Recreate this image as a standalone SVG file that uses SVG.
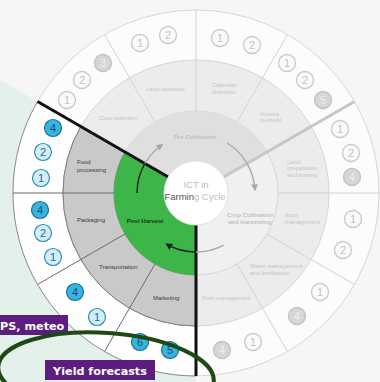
<svg xmlns="http://www.w3.org/2000/svg" width="380" height="382" viewBox="0 0 380 382">
<defs>
<style>
.lbl{font-family:"Liberation Sans",Arial,sans-serif;font-size:6px;fill:#c4c4c4}
.lblD{font-family:"Liberation Sans",Arial,sans-serif;font-size:6px;fill:#3a3a3a}
.ttl{font-family:"Liberation Sans",Arial,sans-serif;font-size:6px;font-weight:bold;fill:#c0c0c0}
.num{font-family:"Liberation Sans",Arial,sans-serif;font-size:11px;text-anchor:middle}
.g circle{fill:#fafafa;stroke:#c9c9c9;stroke-width:1.3}
.g text{fill:#c2c2c2}
.gf circle{fill:#d6d6d6;stroke:#c2c2c2;stroke-width:1.3}
.gf text{fill:#eeeeee}
.bd circle{fill:#36b5e0;stroke:#1b6f95;stroke-width:1.2}
.bd text{fill:#1a4c66}
.bl circle{fill:#d2eef8;stroke:#2a8cb5;stroke-width:1.2}
.bl text{fill:#2a6a88}
.thin{stroke:#d2d2d2;stroke-width:1;fill:none}
.dark{stroke:#6a6a6a;stroke-width:1;fill:none}
.arrG{stroke:#a8a8a8;stroke-width:1.4;fill:none}
.arrD{stroke:#1e1e1e;stroke-width:1.4;fill:none}
.tag rect{fill:#5c1d80}
.tag text{font-family:"DejaVu Sans",Verdana,sans-serif;font-weight:bold;font-size:11.2px;fill:#ffffff}
</style>
<marker id="ahG" viewBox="0 0 10 10" refX="8" refY="5" markerWidth="7" markerHeight="7" markerUnits="userSpaceOnUse" orient="auto"><path d="M0,0 L10,5 L0,10 z" fill="#a8a8a8"/></marker>
<marker id="ahD" viewBox="0 0 10 10" refX="8" refY="5" markerWidth="7" markerHeight="7" markerUnits="userSpaceOnUse" orient="auto"><path d="M0,0 L10,5 L0,10 z" fill="#1e1e1e"/></marker>
</defs>

<rect x="0" y="0" width="380" height="382" fill="#f6f6f6"/>
<polygon points="196,193 -150,-7 -150,400 196,400" fill="#e4f1eb"/>

<g id="wheel">
<circle cx="196" cy="193" r="183" fill="#fcfcfc" stroke="#d6d6d6"/>
<circle cx="196" cy="193" r="133" fill="#ececec" stroke="#d6d6d6"/>
<circle cx="196" cy="193" r="82" fill="#f0f0f0" stroke="#d6d6d6"/>
<path d="M267,152 A82,82 0 0 0 125,152 L168.3,177 A32,32 0 0 1 223.7,177 Z" fill="#dfdfdf"/>
<path d="M37.5,101.5 A183,183 0 0 0 196,376 L196,326 A133,133 0 0 1 80.8,126.5 Z" fill="#fefefe" stroke="#8c8c8c"/>
<path d="M80.8,126.5 A133,133 0 0 0 196,326 L196,275 A82,82 0 0 1 125,152 Z" fill="#c9c9c9" stroke="#808080"/>
<path d="M125,152 A82,82 0 0 0 196,275 L196,225 A32,32 0 0 1 168.3,177 Z" fill="#3db649"/>
</g>

<g id="connectors">
<line class="thin" x1="237" y1="122" x2="287.5" y2="34.5"/>
<line class="thin" x1="196" y1="111" x2="196" y2="10"/>
<line class="thin" x1="155" y1="122" x2="104.5" y2="34.5"/>
<line class="thin" x1="278" y1="193" x2="379" y2="193"/>
<line class="thin" x1="267" y1="234" x2="354.5" y2="284.5"/>
<line class="thin" x1="237" y1="264" x2="287.5" y2="351.5"/>
<line class="dark" x1="114" y1="193" x2="13" y2="193"/>
<line class="dark" x1="125" y1="234" x2="37.5" y2="284.5"/>
<line class="dark" x1="155" y1="264" x2="104.5" y2="351.5"/>
<line x1="223.7" y1="177" x2="354.5" y2="101.5" stroke="#c6c6c6" stroke-width="3"/>
<line x1="168.3" y1="177" x2="37.5" y2="101.5" stroke="#111111" stroke-width="3"/>
<line x1="196" y1="225" x2="196" y2="376" stroke="#111111" stroke-width="3"/>
<path class="arrD" d="M137,193 A59,59 0 0 1 144.9,163.5"/>
<path class="arrG" d="M144.9,163.5 A59,59 0 0 1 162.2,144.7" marker-end="url(#ahG)"/>
<path class="arrG" d="M227.3,143 A59,59 0 0 1 254.9,189.9" marker-end="url(#ahG)"/>
<path class="arrG" d="M223.7,245.1 A59,59 0 0 1 196,252"/>
<path class="arrD" d="M196,252 A59,59 0 0 1 166.5,244.1" marker-end="url(#ahD)"/>
</g>

<g id="center">
<circle cx="196" cy="193" r="32" fill="#ffffff" stroke="#e2e2e2"/>
<text x="196" y="188" text-anchor="middle" font-family="Liberation Sans, Arial, sans-serif" font-size="9.5" fill="#bdbdbd">ICT in</text>
<text x="195" y="200" text-anchor="middle" font-family="Liberation Sans, Arial, sans-serif" font-size="9.5" fill="#bdbdbd"><tspan fill="#555555">Farmin</tspan>g Cycle</text>
</g>

<g id="pre-cultivation"><text class="ttl" x="195" y="139" text-anchor="middle">Pre Cultivation</text></g>
<g id="crop-cultivation"><text class="ttl" x="227" y="217">Crop Cultivation</text><text class="ttl" x="228" y="224">and Harvesting</text></g>
<g id="post-harvest"><text x="145" y="223" text-anchor="middle" font-family="Liberation Sans, Arial, sans-serif" font-size="6" font-weight="bold" fill="#1d331d">Post Harvest</text></g>

<g id="crop-selection">
<text class="lbl" x="99" y="120">Crop selection</text>
<g class="g"><circle cx="67" cy="100" r="8.5"/><text class="num" x="67" y="104">1</text></g>
<g class="g"><circle cx="82" cy="80" r="8.5"/><text class="num" x="82" y="84">2</text></g>
<g class="gf"><circle cx="103" cy="63" r="8.5"/><text class="num" x="103" y="67">3</text></g>
</g>
<g id="land-selection">
<text class="lbl" x="146" y="91">Land selection</text>
<g class="g"><circle cx="140" cy="43" r="8.5"/><text class="num" x="140" y="47">1</text></g>
<g class="g"><circle cx="168" cy="35" r="8.5"/><text class="num" x="168" y="39">2</text></g>
</g>
<g id="calendar-definition">
<text class="lbl" x="224" y="87" text-anchor="middle">Calendar</text>
<text class="lbl" x="224" y="94" text-anchor="middle">definition</text>
<g class="g"><circle cx="220" cy="38" r="8.5"/><text class="num" x="220" y="42">1</text></g>
<g class="g"><circle cx="252" cy="45" r="8.5"/><text class="num" x="252" y="49">2</text></g>
</g>
<g id="access-to-credit">
<text class="lbl" x="260" y="116">Access</text>
<text class="lbl" x="260" y="122">to credit</text>
<g class="g"><circle cx="287" cy="63" r="8.5"/><text class="num" x="287" y="67">1</text></g>
<g class="g"><circle cx="305" cy="80" r="8.5"/><text class="num" x="305" y="84">2</text></g>
<g class="gf"><circle cx="323" cy="100" r="8.5"/><text class="num" x="323" y="104">5</text></g>
</g>
<g id="land-preparation">
<text class="lbl" x="287" y="164">Land</text>
<text class="lbl" x="287" y="170">preparation</text>
<text class="lbl" x="287" y="177">and sowing</text>
<g class="g"><circle cx="340" cy="129" r="8.5"/><text class="num" x="340" y="133">1</text></g>
<g class="g"><circle cx="351" cy="153" r="8.5"/><text class="num" x="351" y="157">2</text></g>
<g class="gf"><circle cx="352" cy="177" r="8.5"/><text class="num" x="352" y="181">4</text></g>
</g>
<g id="input-management">
<text class="lbl" x="285" y="217">Input</text>
<text class="lbl" x="285" y="224">management</text>
<g class="g"><circle cx="353" cy="219" r="8.5"/><text class="num" x="353" y="223">1</text></g>
<g class="g"><circle cx="343" cy="250" r="8.5"/><text class="num" x="343" y="254">2</text></g>
</g>
<g id="water-management">
<text class="lbl" x="250" y="268">Water management</text>
<text class="lbl" x="250" y="275">and fertilisation</text>
<g class="g"><circle cx="320" cy="292" r="8.5"/><text class="num" x="320" y="296">1</text></g>
<g class="gf"><circle cx="297" cy="316" r="8.5"/><text class="num" x="297" y="320">4</text></g>
</g>
<g id="pest-management">
<text class="lbl" x="202" y="300">Pest management</text>
<g class="g"><circle cx="253" cy="342" r="8.5"/><text class="num" x="253" y="346">1</text></g>
<g class="gf"><circle cx="222" cy="350" r="8.5"/><text class="num" x="222" y="354">4</text></g>
</g>

<g id="food-processing">
<text class="lblD" x="77" y="164">Food</text>
<text class="lblD" x="77" y="172">processing</text>
<g class="bd"><circle cx="53" cy="128" r="8.5"/><text class="num" x="53" y="132">4</text></g>
<g class="bl"><circle cx="43" cy="152" r="8.5"/><text class="num" x="43" y="156">2</text></g>
<g class="bl"><circle cx="41" cy="178" r="8.5"/><text class="num" x="41" y="182">1</text></g>
</g>
<g id="packaging">
<text class="lblD" x="77" y="222">Packaging</text>
<g class="bd"><circle cx="40" cy="210" r="8.5"/><text class="num" x="40" y="214">4</text></g>
<g class="bl"><circle cx="43" cy="233" r="8.5"/><text class="num" x="43" y="237">2</text></g>
<g class="bl"><circle cx="53" cy="257" r="8.5"/><text class="num" x="53" y="261">1</text></g>
</g>
<g id="transportation">
<text class="lblD" x="99" y="269">Transportation</text>
<g class="bd"><circle cx="75" cy="292" r="8.5"/><text class="num" x="75" y="296">4</text></g>
<g class="bl"><circle cx="97" cy="317" r="8.5"/><text class="num" x="97" y="321">1</text></g>
</g>
<g id="marketing">
<text class="lblD" x="153" y="300">Marketing</text>
<g class="bd"><circle cx="140" cy="342" r="8.5"/><text class="num" x="140" y="346">6</text></g>
<g class="bd"><circle cx="170" cy="350" r="8.5"/><text class="num" x="170" y="354">5</text></g>
</g>

<g id="gps-meteo" class="tag">
<rect x="-5" y="315" width="73" height="20"/>
<text x="0" y="330">PS, meteo</text>
</g>
<g id="yield-forecasts" class="tag">
<rect x="45" y="360" width="110" height="20"/>
<text x="100" y="375" text-anchor="middle">Yield forecasts</text>
</g>
<g id="highlight">
<ellipse cx="106" cy="374" rx="108" ry="41" fill="none" stroke="#1d4a12" stroke-width="4" transform="rotate(4 106 374)"/>
</g>
</svg>
